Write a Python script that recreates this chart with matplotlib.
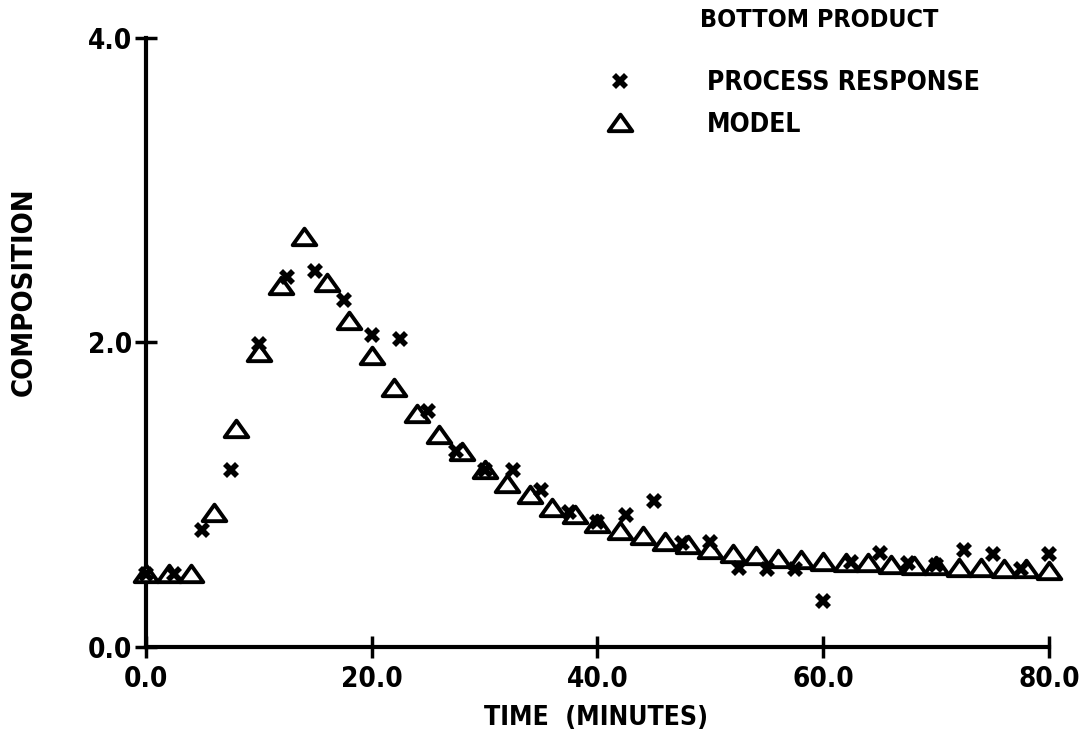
import numpy as np
import matplotlib
matplotlib.use("Agg")
import matplotlib.pyplot as plt
from matplotlib.lines import Line2D
from matplotlib.path import Path

# ---------------------------------------------------------------------------
# data
# ---------------------------------------------------------------------------
process_t = [0.0, 2.5, 5.0, 7.5, 10.0, 12.5, 15.0, 17.5, 20.0, 22.5,
             25.0, 27.5, 30.0, 32.5, 35.0, 37.5, 40.0, 42.5, 45.0, 47.5,
             50.0, 52.5, 55.0, 57.5, 60.0, 62.5, 65.0, 67.5, 70.0, 72.5,
             75.0, 77.5, 80.0]
process_y = [0.48, 0.48, 0.77, 1.16, 1.99, 2.43, 2.47, 2.28, 2.05, 2.02,
             1.55, 1.29, 1.16, 1.16, 1.03, 0.89, 0.82, 0.87, 0.96, 0.68,
             0.69, 0.52, 0.51, 0.51, 0.30, 0.56, 0.62, 0.55, 0.54, 0.64,
             0.61, 0.51, 0.61]

model_t = [0, 2, 4, 6, 8, 10, 12, 14, 16, 18, 20, 22, 24, 26, 28, 30, 32,
           34, 36, 38, 40, 42, 44, 46, 48, 50, 52, 54, 56, 58, 60, 62, 64,
           66, 68, 70, 72, 74, 76, 78, 80]
model_y = [0.48, 0.48, 0.48, 0.88, 1.43, 1.93, 2.37, 2.69, 2.39, 2.14,
           1.91, 1.70, 1.53, 1.39, 1.28, 1.16, 1.07, 1.00, 0.91, 0.87,
           0.81, 0.76, 0.73, 0.69, 0.67, 0.64, 0.61, 0.60, 0.58, 0.57,
           0.56, 0.55, 0.55, 0.54, 0.53, 0.53, 0.52, 0.52, 0.51, 0.51,
           0.50]

x_ticks = [0, 20, 40, 60, 80]
x_ticklabels = ["0.0", "20.0", "40.0", "60.0", "80.0"]
y_ticks = [0, 2, 4]
y_ticklabels = ["0.0", "2.0", "4.0"]

# flattened plotter-style triangle
tri = Path([(-1.0, -0.65), (1.0, -0.65), (0.0, 0.75), (-1.0, -0.65)],
           [Path.MOVETO, Path.LINETO, Path.LINETO, Path.CLOSEPOLY])

plt.rcParams["font.family"] = ["DejaVu Sans"]
plt.rcParams["font.weight"] = "bold"
plt.rcParams["font.stretch"] = "condensed"

fig = plt.figure(figsize=(10.83, 7.33), dpi=100)
ax = fig.add_axes([0.1348, 0.1173, 0.8338, 0.8309])

ax.plot(model_t, model_y, ls="", marker=tri, markersize=17,
        markerfacecolor="white", markeredgecolor="black",
        markeredgewidth=2.8, clip_on=False, zorder=3)
ax.plot(process_t, process_y, ls="", marker="X", markersize=12,
        color="black", markeredgewidth=0, clip_on=False, zorder=4)

ax.set_xlim(0, 80)
ax.set_ylim(0, 4)
ax.set_xticks(x_ticks)
ax.set_xticklabels(x_ticklabels)
ax.set_yticks(y_ticks)
ax.set_yticklabels(y_ticklabels)

for side in ("top", "right"):
    ax.spines[side].set_visible(False)
for side in ("left", "bottom"):
    ax.spines[side].set_linewidth(3)
ax.tick_params(direction="inout", length=16, width=2.5, labelsize=20)
ax.tick_params(axis="x", pad=5)
ax.tick_params(axis="y", pad=2)

fig.text(24 / 1083, 0.602, "COMPOSITION", rotation=90, fontsize=21,
         ha="center", va="center")
fig.text(596 / 1083, 1 - 718 / 733, "TIME  (MINUTES)", fontsize=19,
         ha="center", va="center")
fig.text(700 / 1083, 1 - 20 / 733, "BOTTOM PRODUCT", fontsize=18,
         ha="left", va="center")

handles = [
    Line2D([], [], ls="", marker="X", markersize=12, color="black",
           markeredgewidth=0),
    Line2D([], [], ls="", marker=tri, markersize=17, markerfacecolor="white",
           markeredgecolor="black", markeredgewidth=2.8),
]
fig.legend(handles, ["PROCESS RESPONSE", "MODEL"], loc="upper left",
           bbox_to_anchor=(607 / 1083, 1 - 70 / 733), frameon=False,
           fontsize=19, handlelength=1.0, handletextpad=2.8,
           labelspacing=0.6, borderpad=0, borderaxespad=0)

fig.savefig("out.png", dpi=100)
